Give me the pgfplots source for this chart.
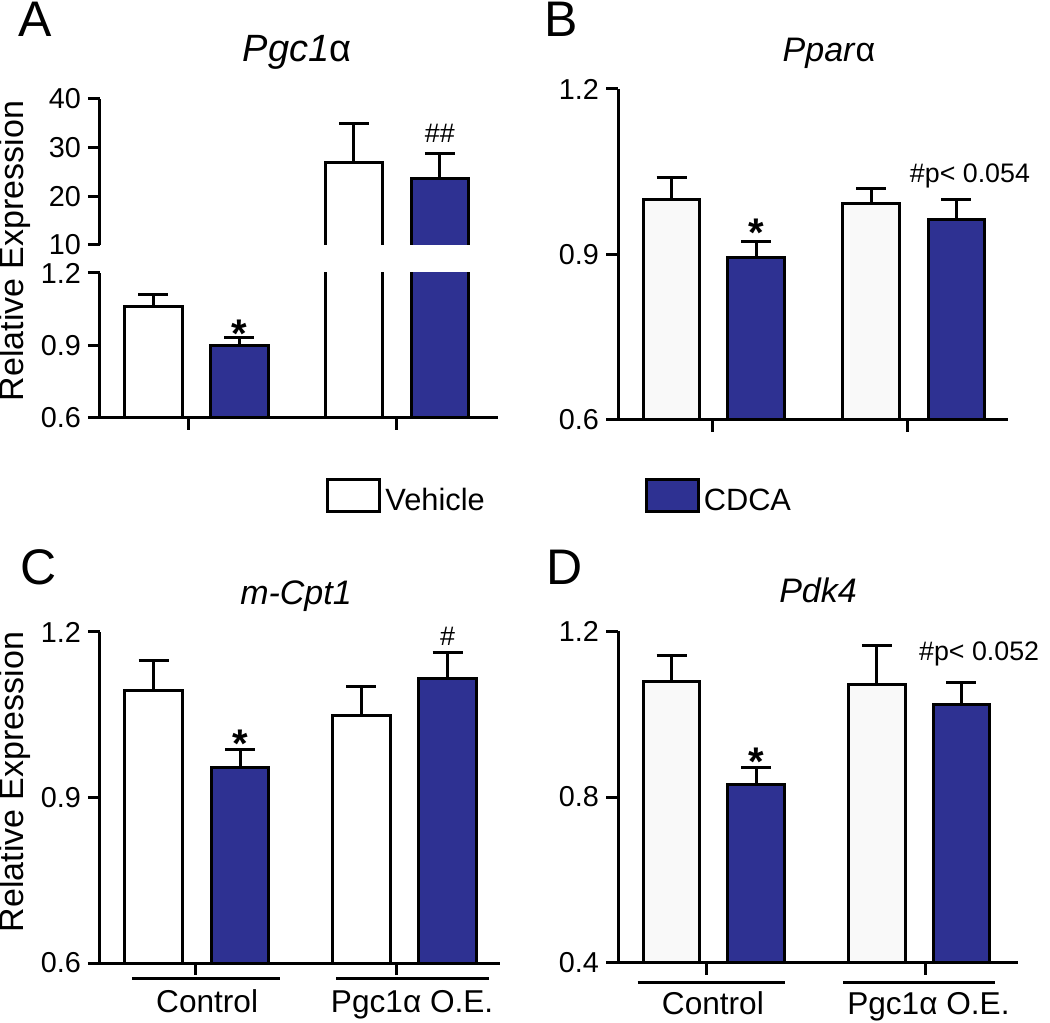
\documentclass[border=0pt]{standalone}
\usepackage{fontspec}
\setmainfont{Liberation Sans}
\usepackage{pgfplots}
\pgfplotsset{compat=1.18}
\definecolor{cdca}{RGB}{46,49,146}
\definecolor{vehgray}{RGB}{249,249,249}

\pgfplotsset{
  panel/.style={
    scale only axis, anchor=south west,
    axis x line*=bottom, axis y line*=left,
    axis line style={line width=1.5pt, -},
    tick align=outside, major tick length=6pt,
    tick style={line width=1.5pt, black},
    xticklabels={},
    yticklabel style={font=\fontsize{14.4}{16}\selectfont},
    title style={font=\itshape\fontsize{17}{19}\selectfont, anchor=base},
  },
  veh/.style={ybar, bar shift=0pt, bar width=0.67, draw=black, fill=#1, line width=1.5pt,
    legend image code/.code={\draw[line width=1.5pt, fill=white] (0pt,-5.5pt) rectangle (26pt,10.5pt);}},
  veh/.default=white,
  cd/.style={ybar, bar shift=0pt, bar width=0.67, draw=black, fill=cdca, line width=1.5pt,
    legend image code/.code={\draw[line width=1.5pt, fill=cdca] (0pt,-5.5pt) rectangle (26pt,10.5pt);}},
  eb/.style={error bars/.cd, y dir=plus, y explicit,
    error bar style={line width=1.5pt, black},
    error mark options={rotate=90, mark size=7.5pt, line width=1.5pt, black}},
}
\tikzset{
  star/.style={font=\bfseries\fontsize{20}{20}\selectfont, anchor=base},
  hash/.style={font=\fontsize{13.4}{15}\selectfont, anchor=base},
  grp/.style={font=\fontsize{15.8}{18}\selectfont, anchor=base},
  letter/.style={font=\fontsize{25}{28}\selectfont, anchor=base west, inner sep=0pt},
}

\begin{document}
\begin{tikzpicture}
\useasboundingbox (0,0) rectangle (525pt,511.5pt);

% ---- A, lower part of the broken axis
\begin{axis}[panel, at={(50pt,302.5pt)}, width=199pt, height=72.5pt,
  xmin=0.378, xmax=5.006, ymin=0.6, ymax=1.2,
  ytick={0.6,0.9,1.2}, yticklabels={0.6,0.9,1.2}, xtick={1.41,3.83},
  legend columns=2,
  legend style={draw=none, fill=none, inner sep=0pt, anchor=west, at={(0.568,-0.552)},
    font=\fontsize{15.4}{17}\selectfont,
    /tikz/every even column/.append style={column sep=78pt}},
]
\addplot[veh, eb] coordinates {(1,1.06) +- (0,0.05)};
\addplot[cd, eb] coordinates {(2,0.90) +- (0,0.035)};
\addplot[veh] coordinates {(3.33,27.0)};
\addplot[cd] coordinates {(4.33,23.6)};
\legend{Vehicle,CDCA}
\node[star] at (axis cs:2,0.89) {*};
\end{axis}

% ---- A, upper part: bars open at the break (axis reaches below 0, cut at 10)
\begin{scope}
\clip (0pt,389pt) rectangle (525pt,511.5pt);
\begin{axis}[scale only axis, anchor=south west, at={(50pt,316pt)}, width=199pt, height=146pt,
  axis lines=none,
  xmin=0.378, xmax=5.006, ymin=-20, ymax=40]
\addplot[veh, eb] coordinates {(3.33,27.0) +- (0,8.0)};
\addplot[cd, eb] coordinates {(4.33,23.6) +- (0,5.3)};
\node[hash] at (axis cs:4.33,31.15) {\#\#};
\end{axis}
\end{scope}
% ... and its y axis
\begin{axis}[panel, at={(50pt,389pt)}, width=199pt, height=73pt,
  axis x line=none,
  xmin=0.378, xmax=5.006, ymin=10, ymax=40,
  ytick={10,20,30,40}, yticklabels={10,20,30,40},
  title={Pgc1\textup{α}}, title style={at={(0.495,1)}, yshift=12.5pt, font=\itshape\fontsize{19}{21}\selectfont},
]
\end{axis}

% ---- B
\begin{axis}[panel, at={(309pt,301.5pt)}, width=195pt, height=165.5pt, clip=false,
  xmin=0.367, xmax=4.98, ymin=0.6, ymax=1.2,
  ytick={0.6,0.9,1.2}, yticklabels={0.6,0.9,1.2}, xtick={1.49,3.79},
  title={Ppar\textup{α}}, title style={at={(0.541,1)}, yshift=7.5pt},
]
\addplot[veh=vehgray, eb] coordinates {(1,1.000) +- (0,0.039) (3.36,0.992) +- (0,0.027)};
\addplot[cd, eb] coordinates {(2,0.894) +- (0,0.030) (4.37,0.964) +- (0,0.036)};
\node[star] at (axis cs:2,0.914) {*};
\node[hash] at (axis cs:4.53,1.03) {\#p< 0.054};
\end{axis}

% ---- C
\begin{axis}[panel, at={(50pt,30pt)}, width=200pt, height=165.5pt, clip=false,
  xmin=0.381, xmax=5.006, ymin=0.6, ymax=1.2,
  ytick={0.6,0.9,1.2}, yticklabels={0.6,0.9,1.2}, xtick={1.49,3.81},
  title={m-Cpt1}, title style={at={(0.49,1)}, yshift=7.5pt},
]
\addplot[veh, eb] coordinates {(1,1.094) +- (0,0.055) (3.4,1.048) +- (0,0.054)};
\addplot[cd, eb] coordinates {(2,0.955) +- (0,0.032) (4.4,1.116) +- (0,0.046)};
\node[star] at (axis cs:2,0.973) {*};
\node[hash] at (axis cs:4.4,1.176) {\#};
\draw[line width=1.5pt] ([yshift=-7.5pt]axis cs:0.75,0.6) -- ([yshift=-7.5pt]axis cs:2.46,0.6);
\draw[line width=1.5pt] ([yshift=-7.5pt]axis cs:3.11,0.6) -- ([yshift=-7.5pt]axis cs:4.88,0.6);
\node[grp] at ([yshift=-24.5pt]axis cs:1.62,0.6) {Control};
\node[grp] at ([yshift=-24.5pt]axis cs:3.99,0.6) {Pgc1α O.E.};
\end{axis}

% ---- D
\begin{axis}[panel, at={(309pt,30pt)}, width=200pt, height=166pt, clip=false,
  xmin=0.367, xmax=5.10, ymin=0.4, ymax=1.2,
  ytick={0.4,0.8,1.2}, yticklabels={0.4,0.8,1.2}, xtick={1.42,4.01},
  title={Pdk4}, title style={at={(0.5,1)}, yshift=8.5pt},
]
\addplot[veh=vehgray, eb] coordinates {(1,1.078) +- (0,0.064) (3.43,1.070) +- (0,0.094)};
\addplot[cd, eb] coordinates {(2,0.829) +- (0,0.043) (4.43,1.022) +- (0,0.053)};
\node[star] at (axis cs:2,0.853) {*};
\node[hash] at (axis cs:4.64,1.130) {\#p< 0.052};
\draw[line width=1.5pt] ([yshift=-10pt]axis cs:0.60,0.4) -- ([yshift=-10pt]axis cs:2.34,0.4);
\draw[line width=1.5pt] ([yshift=-10pt]axis cs:3.03,0.4) -- ([yshift=-10pt]axis cs:4.83,0.4);
\node[grp] at ([yshift=-26pt]axis cs:1.49,0.4) {Control};
\node[grp] at ([yshift=-26pt]axis cs:4.04,0.4) {Pgc1α O.E.};
\end{axis}

% panel letters and shared y labels
\node[letter] at (9pt,493pt) {A};
\node[letter] at (272pt,493pt) {B};
\node[letter] at (10pt,219pt) {C};
\node[letter] at (273pt,219pt) {D};
\node[rotate=90, font=\fontsize{17}{19}\selectfont] at (7.5pt,386pt) {Relative Expression};
\node[rotate=90, font=\fontsize{17}{19}\selectfont] at (7.5pt,120.5pt) {Relative Expression};
\end{tikzpicture}
\end{document}
